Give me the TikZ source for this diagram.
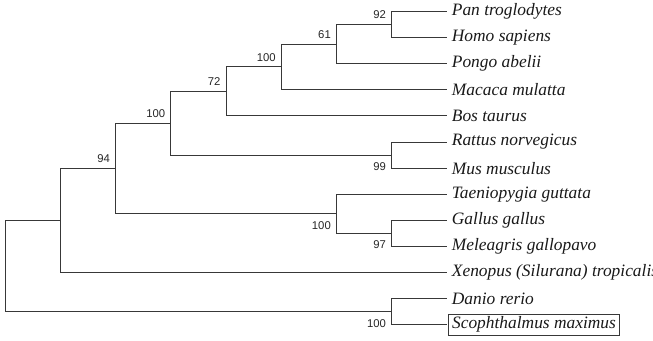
\documentclass[tikz,border=0pt]{standalone}
\usepackage{fontspec}
\setmainfont{Liberation Serif}
\newfontfamily\bootfont{Liberation Sans}
\begin{document}
\begin{tikzpicture}[x=1pt, y=-1pt,
  branch/.style={draw=black!78, line width=1pt, line cap=rect},
  taxon/.style={anchor=west, inner xsep=3.4pt, inner ysep=2.7pt,
    font=\fontsize{17.4}{20}\selectfont\itshape, text=black!90},
  boxedtaxon/.style={taxon, draw=black!78, line width=0.8pt},
  boot/.style={inner sep=0pt, anchor=east, text=black!85,
    font=\bootfont\fontsize{11.3}{13}\selectfont},
  bootup/.style={boot, xshift=-5.5pt, yshift=9.5pt},
  bootdown/.style={boot, xshift=-5.5pt, yshift=-11.5pt}]
\useasboundingbox (0,0) rectangle (653,340);

% leaf tips
\coordinate (L0)  at (446,11.5);
\coordinate (L1)  at (446,37.6);
\coordinate (L2)  at (446,63.7);
\coordinate (L3)  at (446,89.8);
\coordinate (L4)  at (446,115.9);
\coordinate (L5)  at (446,142.0);
\coordinate (L6)  at (446,168.1);
\coordinate (L7)  at (446,194.2);
\coordinate (L8)  at (446,220.3);
\coordinate (L9)  at (446,246.4);
\coordinate (L10) at (446,272.5);
\coordinate (L11) at (446,298.6);
\coordinate (L12) at (446,324.7);

% internal nodes
\coordinate (n92)   at (391.7,24.55);
\coordinate (n61)   at (336.5,44.13);
\coordinate (n100a) at (281.3,66.96);
\coordinate (n72)   at (226.1,91.43);
\coordinate (n99)   at (391.7,155.05);
\coordinate (n100b) at (170.9,123.24);
\coordinate (n97)   at (391.7,233.35);
\coordinate (n100c) at (336.5,213.78);
\coordinate (n94)   at (115.7,168.51);
\coordinate (nX)    at (60.5,220.5);
\coordinate (n100d) at (391.7,311.65);
\coordinate (root)  at (5.3,266.08);

% branches
\draw[branch] (L0) -| (n92) |- (L1);
\draw[branch] (n92) -| (n61) |- (L2);
\draw[branch] (n61) -| (n100a) |- (L3);
\draw[branch] (n100a) -| (n72) |- (L4);
\draw[branch] (L5) -| (n99) |- (L6);
\draw[branch] (n72) -| (n100b) |- (n99);
\draw[branch] (L8) -| (n97) |- (L9);
\draw[branch] (L7) -| (n100c) |- (n97);
\draw[branch] (n100b) -| (n94) |- (n100c);
\draw[branch] (n94) -| (nX) |- (L10);
\draw[branch] (L11) -| (n100d) |- (L12);
\draw[branch] (nX) -| (root) |- (n100d);

% taxon names
\node[taxon] (t0)  at ([xshift=2.3pt]L0)  {Pan troglodytes};
\node[taxon] (t1)  at ([xshift=2.3pt]L1)  {Homo sapiens};
\node[taxon] (t2)  at ([xshift=2.3pt]L2)  {Pongo abelii};
\node[taxon] (t3)  at ([xshift=2.3pt]L3)  {Macaca mulatta};
\node[taxon] (t4)  at ([xshift=2.3pt]L4)  {Bos taurus};
\node[taxon] (t5)  at ([xshift=2.3pt]L5)  {Rattus norvegicus};
\node[taxon] (t6)  at ([xshift=2.3pt]L6)  {Mus musculus};
\node[taxon] (t7)  at ([xshift=2.3pt]L7)  {Taeniopygia guttata};
\node[taxon] (t8)  at ([xshift=2.3pt]L8)  {Gallus gallus};
\node[taxon] (t9)  at ([xshift=2.3pt]L9)  {Meleagris gallopavo};
\node[taxon] (t10) at ([xshift=2.3pt]L10) {Xenopus (Silurana) tropicalis};
\node[taxon] (t11) at ([xshift=2.3pt]L11) {Danio rerio};
\node[boxedtaxon] (t12) at ([xshift=2.3pt]L12) {Scophthalmus maximus};

% bootstrap support
\node[bootup]   (b92)   at (n92)   {92};
\node[bootup]   (b61)   at (n61)   {61};
\node[bootup]   (b100a) at (n100a) {100};
\node[bootup]   (b72)   at (n72)   {72};
\node[bootup]   (b100b) at (n100b) {100};
\node[bootup]   (b94)   at (n94)   {94};
\node[bootdown] (b99)   at (n99)   {99};
\node[bootdown] (b100c) at (n100c) {100};
\node[bootdown] (b97)   at (n97)   {97};
\node[bootdown] (b100d) at (n100d) {100};
\end{tikzpicture}
\end{document}
